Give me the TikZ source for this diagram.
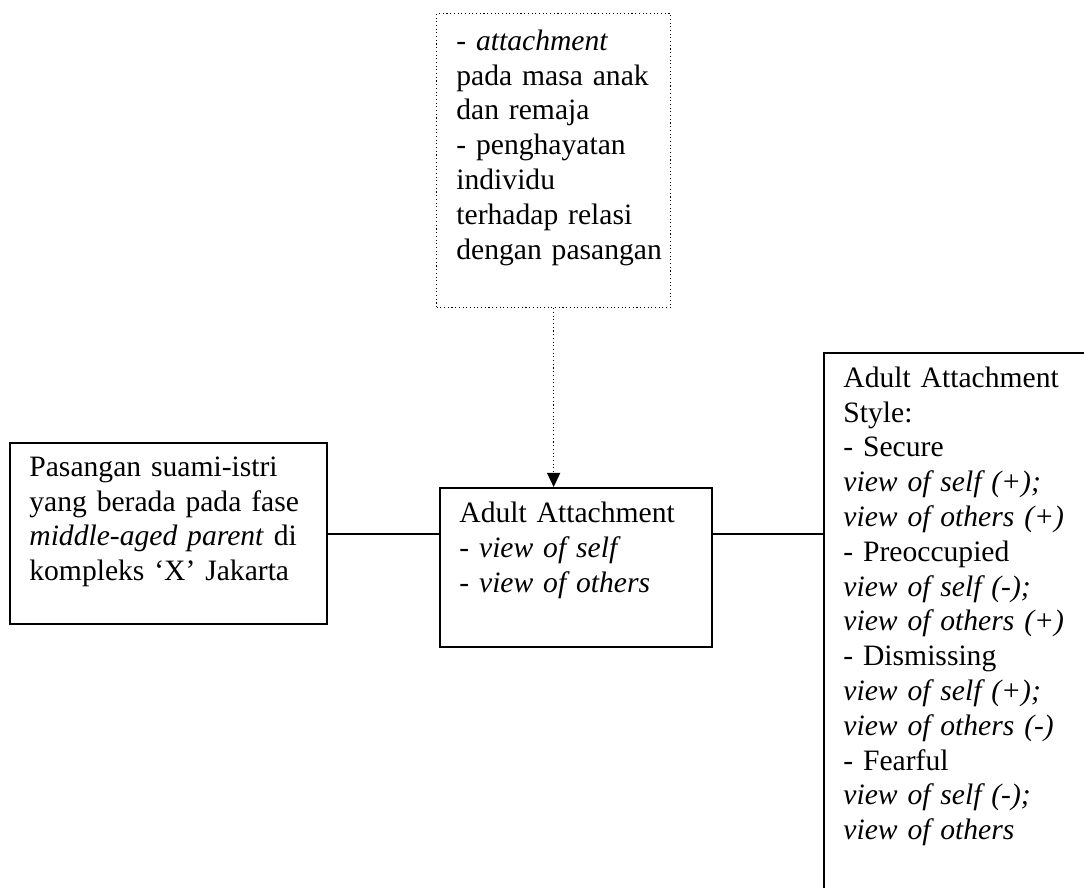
\documentclass[tikz,border=0pt]{standalone}
\usepackage{fontspec}
\setmainfont{Liberation Serif}
\usetikzlibrary{arrows.meta}
\begin{document}
\begin{tikzpicture}[x=0.5pt,y=-0.5pt,
  box/.style={draw, line width=1pt, inner sep=0pt, anchor=north west},
  dotbox/.style={draw, line width=0.65pt, dash pattern=on 0.55pt off 1.3pt, inner sep=0pt, anchor=north west},
  txt/.style={anchor=north west, inner sep=0pt, align=left, text width=300pt, font=\fontsize{14.8pt}{17.4pt}\selectfont},
  link/.style={line width=1pt},
  dotlink/.style={line width=0.65pt, dash pattern=on 0.55pt off 1.3pt, -{Triangle[width=6.5pt,length=7pt]}}]
\useasboundingbox (0,0) rectangle (1084,888);
\clip (0,0) rectangle (1084,888);
\fill[white] (0,0) rectangle (1084,888);
% boxes
\node[dotbox, minimum width=117pt, minimum height=147pt] (topbox) at (436,13) {};
\node[box, minimum width=158.5pt, minimum height=90.5pt] (leftbox) at (9,442) {};
\node[box, minimum width=136pt, minimum height=79.5pt] (midbox) at (439,487) {};
\node[box, minimum width=140pt, minimum height=280pt] (rightbox) at (823,352) {};
% texts
\node[txt] (toptext) at (456,26) {\rule{0pt}{12pt}- \textit{attachment}\\pada masa anak\\dan remaja\\- penghayatan\\individu\\terhadap relasi\\dengan pasangan};
\node[txt] (lefttext) at (29,452) {\rule{0pt}{12pt}Pasangan suami-istri\\yang berada pada fase\\\textit{middle-aged parent} di\\kompleks ‘X’ Jakarta};
\node[txt] (midtext) at (459,498) {\rule{0pt}{12pt}Adult Attachment\\- \textit{view of self}\\- \textit{view of others}};
\node[txt] (righttext) at (843,363) {\rule{0pt}{12pt}Adult Attachment\\Style:\\- Secure\\\textit{view of self (+);}\\\textit{view of others (+)}\\- Preoccupied\\\textit{view of self (-);}\\\textit{view of others (+)}\\- Dismissing\\\textit{view of self (+);}\\\textit{view of others (-)}\\- Fearful\\\textit{view of self (-);}\\\textit{view of others}};
% connectors
\draw[link] (leftbox.east) -- (leftbox.east -| midbox.west);
\draw[link] (leftbox.east -| midbox.east) -- (leftbox.east -| rightbox.west);
\draw[dotlink] (topbox.south) -- (topbox.south |- midbox.north);
\end{tikzpicture}
\end{document}
